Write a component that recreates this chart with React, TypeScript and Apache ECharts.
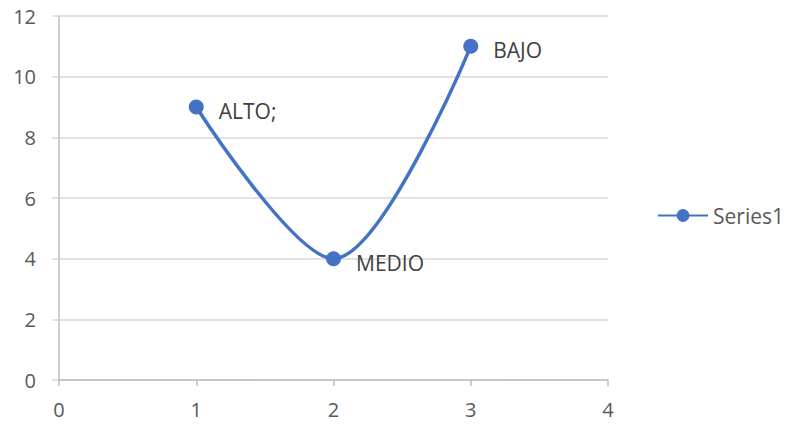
import React, { useEffect, useRef } from "react";
import * as echarts from "echarts";

const xValues = [1, 2, 3];
const yValues = [9, 4, 11];
const pointLabels = ["ALTO;", "MEDIO", "BAJO"];
const seriesName = "Series1";

const FONT = "'Open Sans', Lato, sans-serif";
const TEXT = "#595959";
const LABEL = "#404040";
const FS = 20;

export default function App() {
  const ref = useRef<HTMLDivElement>(null);

  useEffect(() => {
    if (!ref.current) return;
    const chart = echarts.init(ref.current, undefined, { renderer: "svg" });
    chart.setOption({
      animation: false,
      backgroundColor: "#ffffff",
      grid: { left: 59, right: 177, top: 16, bottom: 46, containLabel: false },
      legend: {
        data: [seriesName],
        left: 652,
        top: 200,
        orient: "vertical",
        itemWidth: 50,
        itemHeight: 16,
        itemGap: 6,
        textStyle: { color: TEXT, fontSize: 21, fontFamily: FONT },
      },
      xAxis: {
        type: "value",
        min: 0,
        max: 4,
        interval: 1,
        axisLine: { show: true, lineStyle: { color: "#bfbfbf", width: 1.5 } },
        axisTick: { show: true, length: 6, lineStyle: { color: "#bfbfbf", width: 1.5 } },
        splitLine: { show: false },
        axisLabel: { color: TEXT, fontSize: FS, fontFamily: FONT, margin: 19 },
      },
      yAxis: {
        type: "value",
        min: 0,
        max: 12,
        interval: 2,
        axisLine: { show: true, onZero: false, lineStyle: { color: "#bfbfbf", width: 1.5 } },
        axisTick: { show: true, length: 7, lineStyle: { color: "#d9d9d9", width: 1.5 } },
        splitLine: { show: true, lineStyle: { color: "#d9d9d9", width: 1.5 } },
        axisLabel: { color: TEXT, fontSize: FS, fontFamily: FONT, margin: 23 },
      },
      series: [
        {
          name: seriesName,
          type: "line",
          smooth: 0.32,
          data: xValues.map((x, i) => [x, yValues[i]]),
          symbol: "circle",
          symbolSize: 15,
          itemStyle: { color: "#4472c4" },
          lineStyle: { color: "#4472c4", width: 3.5 },
          label: {
            show: true,
            position: "right",
            distance: 15,
            offset: [0, 4],
            color: LABEL,
            fontSize: 21,
            fontFamily: FONT,
            formatter: (p: any) => pointLabels[p.dataIndex],
          },
        },
      ],
    });
    return () => chart.dispose();
  }, []);

  return <div ref={ref} style={{ width: 785, height: 426, position: "absolute", left: 0, top: 0 }} />;
}
